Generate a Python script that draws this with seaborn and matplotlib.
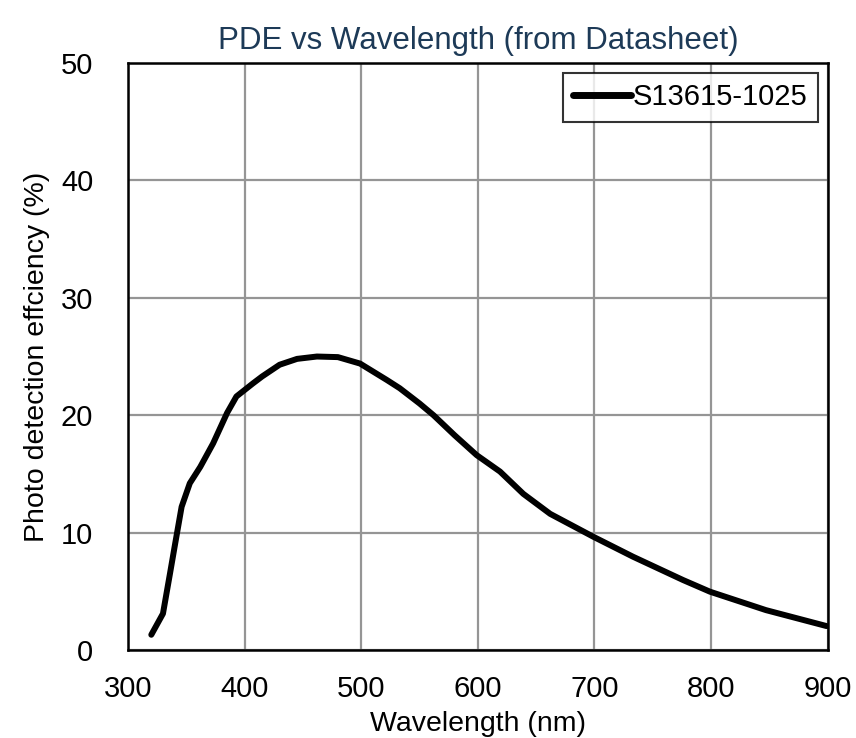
import matplotlib
matplotlib.use("Agg")
import matplotlib.pyplot as plt
import seaborn as sns
import pandas as pd

wavelength = [320, 330, 336, 340, 346, 353, 362, 373, 385, 393, 407, 415, 430, 445, 462,
              480, 499, 522, 533, 550, 562, 580, 599, 619, 639, 662, 699, 733, 776, 799,
              847, 899]
pde = [1.3, 3.1, 6.5, 8.8, 12.2, 14.2, 15.6, 17.6, 20.2, 21.6, 22.7, 23.3, 24.3, 24.8, 25.0,
       24.95, 24.4, 23.0, 22.3, 21.0, 20.0, 18.3, 16.6, 15.2, 13.3, 11.6, 9.65, 7.95, 5.96, 4.97,
       3.4, 2.04]
series_name = "S13615-1025"
x_ticks = [300, 400, 500, 600, 700, 800, 900]
y_ticks = [0, 10, 20, 30, 40, 50]

sns.set_theme(style="white")
plt.rcParams["font.family"] = ["Liberation Sans", "DejaVu Sans"]

df = pd.DataFrame({"Wavelength": wavelength, "PDE": pde, "Series": series_name})

fig = plt.figure(figsize=(8.56, 7.38), dpi=100)
ax = fig.add_axes([0.1495, 0.1192, 0.8175, 0.7954])

sns.lineplot(data=df, x="Wavelength", y="PDE", hue="Series", palette=["black"],
             linewidth=4.3, ax=ax, legend=True)
for line in ax.get_lines():
    line.set_solid_capstyle("round")
    line.set_solid_joinstyle("round")

ax.set_xlim(300, 900)
ax.set_ylim(0, 50)
ax.set_xticks(x_ticks)
ax.set_yticks(y_ticks)
ax.grid(True, color="#959595", linewidth=1.6)
for s in ax.spines.values():
    s.set_color("black")
    s.set_linewidth(1.8)
ax.tick_params(axis="both", length=0, labelsize=21, colors="black")
ax.tick_params(axis="y", pad=25)
ax.tick_params(axis="x", pad=18)

ax.set_xlabel("Wavelength (nm)", fontsize=20.5, color="black", labelpad=6)
ax.set_ylabel("Photo detection effciency (%)", fontsize=20.5, color="black", labelpad=8)
ax.set_title("PDE vs Wavelength (from Datasheet)", fontsize=22.5, color="#1d3a57", pad=10)

leg = ax.legend(loc="upper right", fontsize=21, frameon=True, fancybox=False,
                handlelength=2.0, handletextpad=0.05, borderpad=0.35,
                borderaxespad=0.35)
leg.get_frame().set_edgecolor("black")
leg.get_frame().set_linewidth(1.5)
for t in leg.get_texts():
    t.set_color("black")
for l in leg.get_lines():
    l.set_linewidth(5)

fig.savefig("out.png", dpi=100)
